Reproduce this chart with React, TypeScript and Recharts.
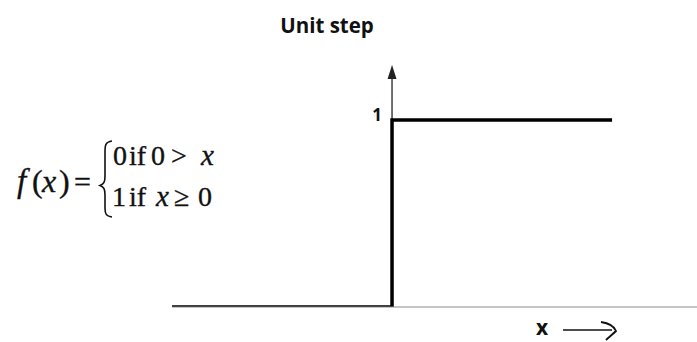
import { LineChart, Line, XAxis, YAxis, ReferenceLine, ReferenceDot } from 'recharts';

// step function samples: x and f(x)
const stepX = [-1, 0, 0, 1];
const stepY = [0, 0, 1, 1];

// axis extents
const xDomain = [-1, 1.386];
const yDomain = [0, 1.642];
const yAxisTop = 1.294;
const unitTick = 1;

const title = 'Unit step';
const xLabel = 'x';

const data = stepX.map((x, i) => ({ x, y: stepY[i] }));

const serif = '"Liberation Serif", "Times New Roman", serif';
const sans = '"Open Sans", "Noto Sans", sans-serif';

// small filled triangle for the top of the vertical axis
const ArrowHead = (props: any) => {
  const { cx, cy } = props;
  return <path d={`M${cx},${cy} L${cx - 4.5},${cy + 14} L${cx + 4.5},${cy + 14} Z`} fill="#222" />;
};

const UnitLabel = (props: any) => {
  const { viewBox } = props;
  const x = viewBox.x + viewBox.width / 2;
  const y = viewBox.y + viewBox.height / 2;
  return (
    <text x={x - 10} y={y + 1} textAnchor="end" fontFamily={sans} fontWeight={700} fontSize={17} fill="#111">
      {unitTick}
    </text>
  );
};

const Overlay = () => (
  <svg width={697} height={342} style={{ position: 'absolute', left: 0, top: 0, pointerEvents: 'none' }}>
    <text x={327} y={33} textAnchor="middle" fontFamily={sans} fontWeight={700} fontSize={20.5} fill="#111">
      {title}
    </text>

    {/* f(x) = { ... */}
    <g fontFamily={serif} fill="#111" stroke="#111" strokeWidth={0.35}>
      <text x={17} y={192} fontSize={33} fontStyle="italic">f</text>
      <text x={32} y={192} fontSize={32}>(</text>
      <text x={42} y={192} fontSize={32} fontStyle="italic">x</text>
      <text x={59} y={192} fontSize={32}>)</text>
      <text x={74} y={192} fontSize={30}>=</text>

      <text x={113} y={165} fontSize={28}>0</text>
      <text x={129} y={165} fontSize={28}>if</text>
      <text x={151} y={165} fontSize={28}>0</text>
      <text x={171} y={165} fontSize={28}>&gt;</text>
      <text x={201} y={165} fontSize={29} fontStyle="italic">x</text>

      <text x={112} y={206} fontSize={28}>1</text>
      <text x={129} y={206} fontSize={28}>if</text>
      <text x={156} y={206} fontSize={29} fontStyle="italic">x</text>
      <text x={174} y={206} fontSize={28}>≥</text>
      <text x={198} y={206} fontSize={28}>0</text>
    </g>
    <path
      d="M112,141 C105,142 105,146 105,152 L105,176 C105,182 104,184 100,185.5 C104,187 105,189 105,195 L105,208 C105,214 106,216 112,217"
      fill="none"
      stroke="#111"
      strokeWidth={1.6}
    />

    <text x={542} y={335} textAnchor="middle" fontFamily={sans} fontWeight={700} fontSize={21} fill="#111">
      {xLabel}
    </text>
    <path d="M563,330 L612,330" stroke="#111" strokeWidth={1.4} fill="none" />
    <path d="M601,322 C608,323 614,326 616,331 C613,334 609,337 606,340" stroke="#111" strokeWidth={1.8} fill="none" />
  </svg>
);

export default function App() {
  return (
    <div style={{ position: 'absolute', left: 0, top: 0, width: 697, height: 342, background: '#fff' }}>
      <LineChart width={697} height={342} data={data} margin={{ top: 0, right: 0, bottom: 0, left: 172 }}>
        <XAxis
          dataKey="x"
          type="number"
          domain={xDomain}
          allowDataOverflow
          height={35}
          tick={false}
          tickLine={false}
          axisLine={{ stroke: '#8a8a8a', strokeWidth: 1.2 }}
        />
        <YAxis type="number" domain={yDomain} allowDataOverflow hide />
        <ReferenceLine
          segment={[
            { x: 0, y: 0 },
            { x: 0, y: yAxisTop - 0.05 },
          ]}
          stroke="#222"
          strokeWidth={1.3}
          ifOverflow="visible"
        />
        <ReferenceDot x={0} y={yAxisTop} r={0} shape={ArrowHead} ifOverflow="visible" />
        <Line
          type="linear"
          dataKey="y"
          stroke="#000"
          strokeWidth={3.5}
          strokeLinejoin="miter"
          dot={false}
          activeDot={false}
          isAnimationActive={false}
        />
        <ReferenceDot x={0} y={unitTick} r={0} fill="none" stroke="none" label={<UnitLabel />} ifOverflow="visible" />
      </LineChart>
      <Overlay />
    </div>
  );
}
